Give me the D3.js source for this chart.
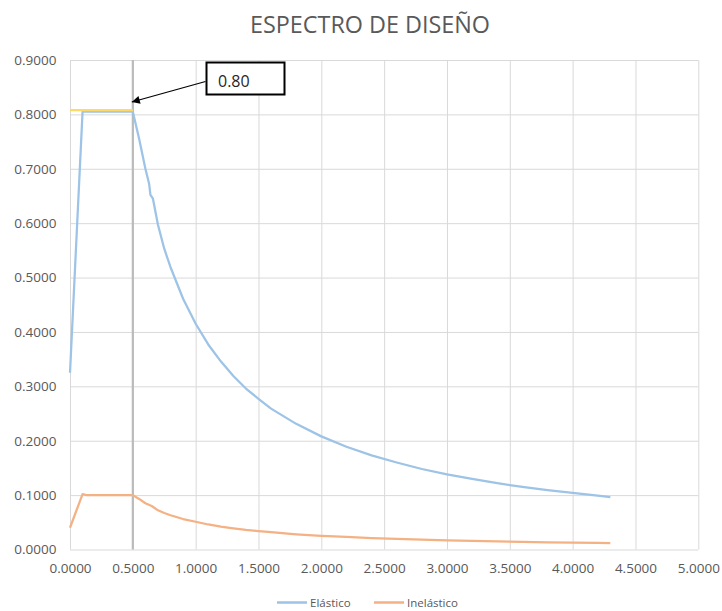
<!DOCTYPE html>
<html>
<head>
<meta charset="utf-8">
<script src="https://cdn.jsdelivr.net/npm/d3@7"></script>
<style>
  html, body { margin: 0; padding: 0; background: #fff; }
  svg { display: block; }
</style>
</head>
<body>
<svg id="chart" width="722" height="611"></svg>
<script>
// ---- data ----
const title = "ESPECTRO DE DISEÑO";
const seriesNames = ["Elástico", "Inelástico"];
const periodE = [0, 0.1, 0.5, 0.55, 0.6, 0.63, 0.64, 0.66, 0.7, 0.75, 0.8, 0.9, 1.0, 1.1, 1.2, 1.3, 1.4, 1.5, 1.6, 1.8, 2.0, 2.2, 2.4, 2.6, 2.8, 3.0, 3.2, 3.4, 3.6, 3.8, 4.0, 4.2, 4.3];
const elastico = [0.325, 0.805, 0.805, 0.755, 0.700, 0.672, 0.652, 0.645, 0.597, 0.553, 0.519, 0.461, 0.415, 0.377, 0.346, 0.319, 0.296, 0.277, 0.259, 0.231, 0.208, 0.189, 0.173, 0.160, 0.148, 0.138, 0.130, 0.122, 0.115, 0.109, 0.104, 0.099, 0.0965];
const periodI = [0, 0.1, 0.13, 0.5, 0.55, 0.6, 0.65, 0.7, 0.75, 0.8, 0.9, 1.0, 1.1, 1.2, 1.3, 1.4, 1.5, 1.6, 1.8, 2.0, 2.2, 2.4, 2.6, 2.8, 3.0, 3.2, 3.4, 3.6, 3.8, 4.0, 4.2, 4.3];
const inelastico = [0.040, 0.102, 0.100, 0.100, 0.093, 0.085, 0.080, 0.072, 0.067, 0.063, 0.056, 0.051, 0.046, 0.042, 0.039, 0.036, 0.034, 0.032, 0.028, 0.025, 0.023, 0.021, 0.0195, 0.018, 0.017, 0.0158, 0.0148, 0.014, 0.0133, 0.0126, 0.012, 0.0117];
const plateauX = [0, 0.5];
const plateauY = [0.808, 0.808];
const tpX = [0.5, 0.5];
const tpY = [0, 0.9];
const annotationText = "0.80";
const annotationPoint = [0.5, 0.808];
const xTicks = [0, 0.5, 1, 1.5, 2, 2.5, 3, 3.5, 4, 4.5, 5];
const yTicks = [0, 0.1, 0.2, 0.3, 0.4, 0.5, 0.6, 0.7, 0.8, 0.9];

// ---- layout ----
const svg = d3.select("#chart");
const L = 70, R = 698.3, T = 60, B = 549.5;
const x = d3.scaleLinear().domain([0, 5]).range([L, R]);
const y = d3.scaleLinear().domain([0, 0.9]).range([B, T]);
const fmt = d3.format(".4f");
const font = "'Open Sans', 'Liberation Sans', sans-serif";
const txtColor = "#595959";

// gridlines
svg.append("g").attr("transform", `translate(0,${B})`)
  .call(d3.axisBottom(x).tickValues(xTicks).tickSize(-(B - T)).tickFormat(""))
  .call(g => g.select(".domain").remove())
  .call(g => g.selectAll("line").attr("stroke", "#D9D9D9").attr("stroke-width", 1));
svg.append("g").attr("transform", `translate(${L},0)`)
  .call(d3.axisLeft(y).tickValues(yTicks).tickSize(-(R - L)).tickFormat(""))
  .call(g => g.select(".domain").remove())
  .call(g => g.selectAll("line").attr("stroke", "#D9D9D9").attr("stroke-width", 1));

// tick labels
svg.append("g").attr("transform", `translate(0,${B})`)
  .call(d3.axisBottom(x).tickValues(xTicks).tickSize(0).tickPadding(14).tickFormat(fmt))
  .call(g => g.select(".domain").remove())
  .call(g => g.selectAll("text").attr("fill", txtColor).style("font-family", font).style("font-size", "13.5px"));
svg.append("g").attr("transform", `translate(${L},0)`)
  .call(d3.axisLeft(y).tickValues(yTicks).tickSize(0).tickPadding(13.5).tickFormat(fmt))
  .call(g => g.select(".domain").remove())
  .call(g => g.selectAll("text").attr("fill", txtColor).style("font-family", font).style("font-size", "13.5px"));

// Tp vertical line
const line = d3.line().x(d => x(d[0])).y(d => y(d[1]));
svg.append("path").datum(d3.zip(tpX, tpY)).attr("d", line)
  .attr("fill", "none").attr("stroke", "#BBBBBB").attr("stroke-width", 2.2);

// series
svg.append("path").datum(d3.zip(periodE, elastico)).attr("d", line)
  .attr("fill", "none").attr("stroke", "#9DC3E6").attr("stroke-width", 2.25).attr("stroke-linejoin", "round");
svg.append("path").datum(d3.zip(periodI, inelastico)).attr("d", line)
  .attr("fill", "none").attr("stroke", "#F4B183").attr("stroke-width", 2.25).attr("stroke-linejoin", "round");
svg.append("path").datum(d3.zip(plateauX, plateauY)).attr("d", line)
  .attr("fill", "none").attr("stroke", "#FFD966").attr("stroke-width", 2.25);

// title
const t = svg.append("text").text(title)
  .attr("x", 370).attr("y", 32.5).attr("text-anchor", "middle")
  .attr("fill", txtColor).style("font-family", font).style("font-size", "20px");
const tw = t.node().getComputedTextLength();
t.style("font-size", (20 * 240 / tw) + "px");

// annotation
const bx = 206.5, by = 62.5, bw = 78, bh = 32;
svg.append("defs").append("marker")
  .attr("id", "arrow").attr("viewBox", "0 0 10 10").attr("refX", 10).attr("refY", 5)
  .attr("markerWidth", 9).attr("markerHeight", 8).attr("markerUnits", "userSpaceOnUse")
  .attr("orient", "auto")
  .append("path").attr("d", "M0,0 L10,5 L0,10 Z").attr("fill", "#000");
svg.append("line")
  .attr("x1", bx - 1).attr("y1", by + 19)
  .attr("x2", x(annotationPoint[0]) - 1).attr("y2", y(annotationPoint[1]) - 8)
  .attr("stroke", "#000").attr("stroke-width", 1.2).attr("marker-end", "url(#arrow)");
svg.append("rect").attr("x", bx).attr("y", by).attr("width", bw).attr("height", bh)
  .attr("fill", "#fff").attr("stroke", "#000").attr("stroke-width", 2);
svg.append("text").text(annotationText).attr("x", bx + 11.5).attr("y", by + 24.5)
  .attr("fill", "#262626").style("font-family", font).style("font-size", "16px");

// legend
const legColors = ["#9DC3E6", "#F4B183"];
const legX = [277, 374];
const legY = 602.5;
seriesNames.forEach((n, i) => {
  svg.append("line").attr("x1", legX[i]).attr("x2", legX[i] + 30)
    .attr("y1", legY).attr("y2", legY)
    .attr("stroke", legColors[i]).attr("stroke-width", 2.5);
  svg.append("text").text(n).attr("x", legX[i] + 33).attr("y", legY + 4)
    .attr("fill", txtColor).style("font-family", font).style("font-size", "11.5px");
});
</script>
</body>
</html>
